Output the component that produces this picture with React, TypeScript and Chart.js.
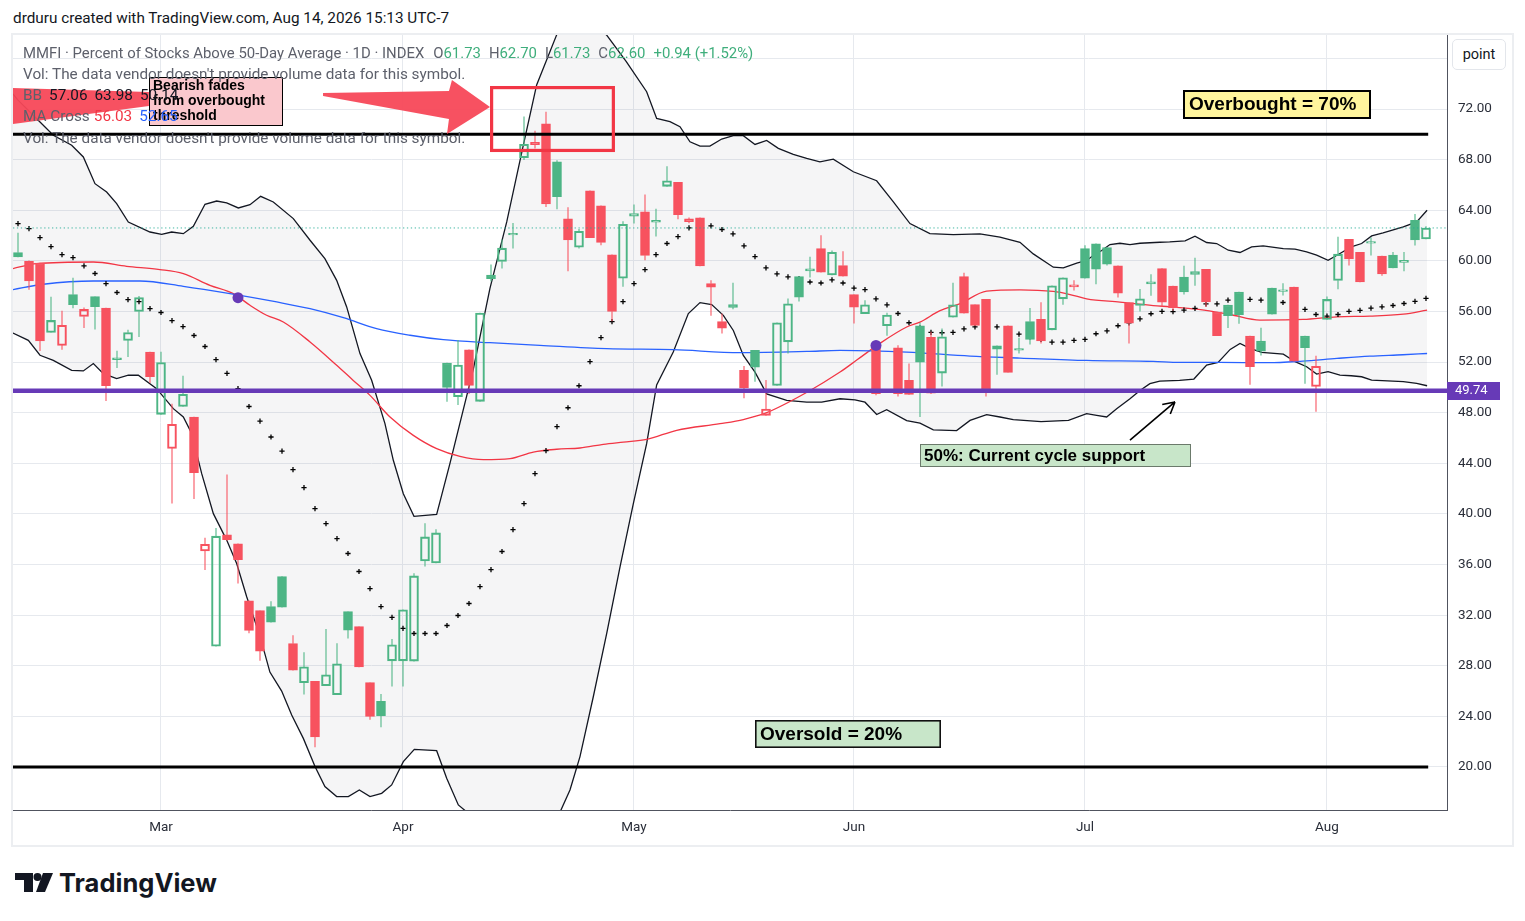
import React, { useEffect, useRef } from 'react';
import { Chart, registerables } from 'chart.js';
Chart.register(...registerables);

// ---------- categories (trading days, 2026) ----------
const dates = [
  '02-10','02-11','02-12','02-13','02-17','02-18','02-19','02-20','02-23','02-24','02-25','02-26','02-27',
  '03-02','03-03','03-04','03-05','03-06','03-09','03-10','03-11','03-12','03-13','03-16','03-17','03-18','03-19','03-20','03-23','03-24','03-25','03-26','03-27','03-30','03-31',
  '04-01','04-02','04-06','04-07','04-08','04-09','04-10','04-13','04-14','04-15','04-16','04-17','04-20','04-21','04-22','04-23','04-24','04-27','04-28','04-29','04-30',
  '05-01','05-04','05-05','05-06','05-07','05-08','05-11','05-12','05-13','05-14','05-15','05-18','05-19','05-20','05-21','05-22','05-26','05-27','05-28','05-29',
  '06-01','06-02','06-03','06-04','06-05','06-08','06-09','06-10','06-11','06-12','06-15','06-16','06-17','06-18','06-22','06-23','06-24','06-25','06-26','06-29','06-30',
  '07-01','07-02','07-06','07-07','07-08','07-09','07-10','07-13','07-14','07-15','07-16','07-17','07-20','07-21','07-22','07-23','07-24','07-27','07-28','07-29','07-30','07-31',
  '08-03','08-04','08-05','08-06','08-07','08-10','08-11','08-12','08-13','08-14',
];
const monthKeys = ['03', '04', '05', '06', '07', '08'];
const monthLabels = ['Mar', 'Apr', 'May', 'Jun', 'Jul', 'Aug'];
const yTickValues = [20, 24, 28, 32, 36, 40, 44, 48, 52, 56, 60, 64, 68, 72, 76];

// ---------- OHLC ----------
const open = [
  60.66,59.97,59.82,54.34,53.32,57.34,55.6,57.18,56.26,52.2,
  53.71,56.0,52.79,47.87,45.18,48.5,47.66,37.08,29.55,38.34,
  37.63,33.13,32.37,32.68,35.05,29.76,26.66,26.76,26.42,25.71,
  32.29,31.1,26.68,25.18,28.39,28.39,28.37,36.29,36.13,51.92,
  49.26,52.97,48.9,58.87,59.95,62.05,68.16,69.37,70.82,67.82,
  63.32,61.08,65.53,64.34,60.47,58.63,63.53,63.87,63.05,65.89,
  66.21,63.32,63.4,58.21,55.21,56.55,51.34,52.92,47.79,50.16,
  53.6,58.76,59.21,60.97,58.89,59.63,57.34,55.82,53.18,54.87,
  53.13,50.55,54.87,53.95,51.13,55.55,58.76,56.55,56.95,53.29,
  54.87,52.95,55.21,55.37,54.55,57.0,57.95,60.97,61.34,61.05,
  59.61,56.71,56.47,58.18,59.39,58.0,58.71,58.92,59.34,55.95,
  56.5,57.53,54.05,53.66,57.84,57.58,57.92,54.05,50.08,55.37,
  58.45,61.71,60.68,61.4,60.37,60.45,59.87,63.21,61.73,
];
const high = [
  62.2,60.0,59.82,57.13,56.03,58.63,56.29,57.18,56.26,52.87,
  54.53,57.2,52.79,52.79,48.68,50.9,47.66,38.1,38.87,43.08,
  37.63,33.13,32.37,33.08,35.05,30.39,29.05,26.76,30.87,29.76,
  32.29,31.1,26.68,25.74,30.08,32.42,35.29,39.24,38.76,51.92,
  53.71,52.97,55.87,59.68,61.66,62.97,71.39,70.26,71.76,67.92,
  64.21,62.5,65.53,64.34,60.47,63.1,64.42,65.21,64.1,67.45,
  66.21,63.4,63.4,58.45,55.82,58.24,51.66,52.92,50.55,55.1,
  57.0,58.76,60.29,62.0,60.8,60.74,57.34,56.87,53.18,55.87,
  53.3,51.87,55.08,54.37,54.63,58.24,59.03,56.55,56.95,53.29,
  54.87,53.89,56.24,56.71,58.03,58.66,58.45,61.21,61.34,61.05,
  59.61,56.71,57.74,58.92,59.39,58.0,59.58,60.21,59.34,55.95,
  56.5,57.53,54.05,54.68,57.84,58.21,57.92,54.05,52.47,57.16,
  61.87,61.71,60.68,61.82,60.37,60.68,60.68,63.68,62.70,
];
const low = [
  60.32,57.74,52.9,54.34,53.0,56.29,54.71,54.6,48.95,51.55,
  52.42,54.0,50.37,47.87,40.84,48.5,41.21,35.6,29.55,37.9,
  34.53,30.6,28.42,31.45,32.63,27.66,25.76,21.58,26.42,25.71,
  30.18,27.9,23.76,23.16,26.39,26.39,28.37,35.87,36.13,48.9,
  48.63,49.5,48.9,58.4,59.42,61.0,68.0,68.9,64.29,64.1,
  59.21,61.0,61.84,61.26,55.26,57.97,62.97,60.08,61.95,65.89,
  63.32,63.0,59.6,55.68,54.29,56.21,49.16,50.47,47.79,50.16,
  52.71,56.82,58.71,59.1,58.89,58.79,55.08,55.82,49.4,54.1,
  49.3,49.45,47.68,49.5,50.1,55.55,55.87,54.89,49.3,51.03,
  51.18,52.71,53.42,53.5,54.55,56.55,57.68,58.63,58.18,59.66,
  57.13,53.5,56.03,57.26,56.39,56.1,57.37,58.05,56.37,54.08,
  54.71,55.05,50.24,52.55,55.79,57.29,52.08,50.32,48.1,55.37,
  57.79,59.66,58.34,60.45,58.84,59.45,59.21,61.24,61.73,
];
const close = [
  60.32,58.42,53.68,55.29,54.9,56.53,56.16,56.37,50.13,52.29,
  54.34,57.1,50.84,51.97,47.08,49.45,43.26,37.6,38.24,37.97,
  36.39,30.79,29.16,31.45,32.63,27.66,27.92,22.37,27.29,28.16,
  30.82,27.9,24.0,24.05,29.66,32.42,35.1,38.18,38.5,50.0,
  51.76,50.16,55.87,58.6,61.0,62.15,69.21,69.18,64.5,65.08,
  61.66,62.34,61.84,61.45,56.0,62.89,63.74,60.42,63.21,66.32,
  63.66,63.1,59.6,57.92,54.68,56.32,49.95,51.6,48.29,55.1,
  56.61,57.13,59.37,59.1,60.68,58.79,56.34,56.53,49.5,55.71,
  49.5,49.45,52.0,49.55,54.0,56.53,55.87,54.89,49.8,53.03,
  51.18,53.05,53.79,53.68,58.03,58.66,58.1,58.63,59.34,59.74,
  57.45,55.08,57.0,58.34,56.74,56.3,57.55,59.16,56.76,54.08,
  55.66,55.75,51.63,52.87,55.79,57.68,52.08,53.13,51.66,56.95,
  60.53,60.16,58.34,61.45,58.97,59.45,60.05,61.66,62.60,
];

// ---------- Bollinger basis (20-day, one per day) ----------
const bbBasis = [
  62.95,62.55,61.84,61.13,60.5,60.26,59.6,59.0,58.2,57.5,
  56.94,56.78,56.23,55.92,55.28,54.81,54.1,53.23,52.2,51.1,
  49.9,48.49,47.33,46.08,44.97,43.5,42.08,40.42,39.24,38.05,
  36.87,35.45,34.1,32.68,31.82,30.95,30.55,30.55,30.55,31.18,
  31.97,32.92,34.26,35.6,37.03,38.76,40.82,43.18,45.0,46.9,
  48.39,50.13,52.03,53.93,55.19,56.78,58.2,59.31,60.5,61.37,
  61.92,62.61,62.75,62.77,62.48,62.13,61.18,60.34,59.45,58.97,
  58.73,58.6,58.33,58.25,58.5,58.25,57.85,57.72,57.0,56.52,
  55.84,55.11,54.7,54.34,54.32,54.35,54.63,54.79,54.8,54.79,
  54.5,54.21,54.0,53.8,53.58,53.58,53.71,53.79,54.24,54.47,
  54.87,55.1,55.42,55.82,56.0,55.98,56.1,56.24,56.6,56.6,
  56.89,56.9,56.95,56.89,56.8,56.71,56.45,56.16,55.76,55.63,
  55.76,56.0,56.08,56.26,56.37,56.47,56.63,56.79,57.03,
];

// ---------- Bollinger upper / lower (read as [day index, value]) ----------
const bbUpper = [
  [-0.46,73.2],[0,72.7],[2.0,70.98],[3.21,69.93],[4.88,69.14],[5.94,68.21],[7.0,66.1],[8.06,65.44],[8.97,64.52],
  [10.03,63.07],[12.0,62.28],[13.06,62.1],[13.97,62.28],[15.03,62.15],[15.94,62.73],[17.0,64.47],[18.06,64.73],
  [18.97,64.58],[20.03,64.18],[21.09,64.44],[22.06,65.1],[23.21,64.65],[25.03,63.34],[26.55,61.63],[27.9,60.18],
  [28.97,58.46],[29.88,56.36],[31.09,52.67],[32.15,50.56],[33.36,47.14],[34.12,44.24],[35.03,41.6],[36.0,39.81],
  [38.06,39.97],[39.27,44.0],[41.4,51.47],[42.9,57.8],[44.43,63.08],[45.94,69.15],[47.15,73.9],[48.97,77.86],
  [51.0,79.4],[52.3,78.5],[53.5,77.86],[55.3,75.75],[57.15,73.37],[58.06,71.26],[59.27,71.0],[60.18,70.6],
  [61.09,69.41],[62.0,69.07],[62.9,69.07],[63.97,69.63],[65.03,69.89],[65.94,69.89],[67.0,69.2],[68.06,69.52],
  [69.12,68.89],[70.48,68.41],[71.7,68.1],[72.9,67.83],[74.12,68.04],[75.94,67.04],[78.06,66.33],[79.58,64.66],
  [81.09,62.95],[82.9,62.16],[85.03,62.08],[87.45,62.13],[89.27,61.87],[91.09,61.47],[92.3,60.55],[94.12,59.5],
  [95.03,59.45],[96.25,59.82],[97.15,60.03],[97.75,60.42],[98.52,60.82],[99.27,61.29],[100.18,61.39],[101.09,61.29],
  [102.0,61.39],[103.8,61.47],[104.7,61.5],[106.1,61.58],[107.0,61.95],[108.06,61.45],[108.97,61.37],[110.03,60.84],
  [111.09,60.66],[112.15,61.1],[113.2,61.18],[115.03,60.97],[116.1,60.92],[117.15,60.71],[118.06,60.45],[119.1,60.05],
  [120.18,60.58],[121.2,61.1],[122.15,61.37],[123.06,61.97],[124.1,62.21],[125.94,62.68],[127.15,63.08],[128.1,64.0],
];
const bbLower = [
  [-0.46,54.3],[0.94,53.72],[2.0,52.54],[3.21,52.14],[4.88,51.35],[5.94,51.3],[6.85,51.88],[7.76,51.09],[8.97,50.7],
  [10.03,50.96],[10.94,50.96],[12.6,49.9],[14.12,48.32],[15.03,47.66],[15.79,46.35],[16.7,43.18],[17.76,40.02],
  [18.97,37.93],[19.88,36.08],[20.79,33.45],[22.0,30.34],[22.9,27.5],[23.97,26.0],[24.88,24.1],[25.94,22.26],
  [27.0,20.03],[27.9,18.45],[28.97,17.66],[30.03,17.66],[31.03,18.18],[32.0,17.66],[33.06,17.92],[33.97,18.58],
  [35.03,20.42],[36.03,21.39],[38.06,21.29],[38.97,19.11],[40.03,17.0],[41.0,16.3],[43.0,13.4],[45.0,12.1],
  [47.0,12.5],[49.0,15.9],[50.18,18.18],[51.09,20.82],[52.3,25.55],[53.52,30.55],[54.73,35.82],[55.94,40.82],
  [57.15,45.55],[58.06,50.2],[59.57,52.79],[60.94,55.83],[62.0,56.7],[63.06,56.54],[64.12,55.69],[65.03,54.5],
  [65.94,52.53],[67.0,51.2],[68.06,49.49],[69.88,48.97],[71.7,48.83],[73.06,48.83],[74.73,49.1],[76.09,49.02],
  [77.0,48.83],[78.06,47.86],[78.97,48.23],[80.79,47.38],[82.0,47.17],[83.21,46.64],[85.33,46.59],[86.55,47.39],
  [88.06,47.84],[89.27,47.66],[90.48,47.45],[93.0,47.3],[95.5,47.4],[97.15,47.92],[98.06,47.79],[98.97,47.66],
  [99.88,48.32],[101.09,49.1],[102.0,49.76],[102.9,50.29],[103.8,50.5],[105.6,50.55],[106.9,50.66],[108.06,51.76],
  [109.1,51.97],[110.2,53.0],[111.09,53.47],[112.0,53.08],[113.06,52.76],[115.03,52.63],[116.1,52.03],[117.15,51.63],
  [118.06,51.05],[119.1,51.24],[120.18,50.97],[121.2,50.92],[122.15,50.84],[123.06,50.58],[125.94,50.45],[127.15,50.32],
  [128.1,50.13],
];

// ---------- Moving averages (read as [day index, value]) ----------
const ma50 = [
  [-0.46,59.39],[1.7,59.78],[6.85,59.91],[9.88,59.57],[12.9,59.31],[15.03,58.99],[17.45,58.07],[19.57,57.41],
  [21.09,56.49],[22.6,55.7],[24.12,55.17],[26.55,53.59],[28.97,51.75],[30.48,50.55],[32.0,49.37],[33.82,47.66],
  [35.94,46.21],[38.06,45.16],[40.18,44.55],[42.3,44.29],[44.73,44.37],[46.85,44.89],[48.97,45.11],[51.09,45.21],
  [53.21,45.5],[55.03,45.68],[57.15,45.89],[59.88,46.61],[63.82,47.13],[65.94,47.46],[68.06,48.0],[71.7,49.6],
  [74.73,51.21],[76.25,52.16],[78.36,53.48],[80.79,54.77],[82.0,55.16],[83.82,56.06],[85.6,56.6],[88.06,57.61],
  [91.09,57.71],[94.12,57.58],[95.64,57.34],[97.15,57.0],[100.18,56.74],[103.2,56.47],[104.7,56.37],[107.15,56.18],
  [110.2,55.76],[112.9,55.32],[116.85,55.37],[119.9,55.58],[122.9,55.63],[125.94,55.79],[128.1,56.11],
];
const ma200 = [
  [-0.46,57.73],[2.3,58.15],[6.85,58.41],[11.09,58.41],[15.03,57.99],[19.27,57.41],[23.52,56.75],[26.55,56.22],
  [29.58,55.51],[32.6,54.64],[35.64,54.12],[38.67,53.77],[42.9,53.53],[47.45,53.32],[53.5,53.06],[59.57,52.98],
  [65.64,52.75],[71.7,52.84],[74.73,52.92],[80.79,52.79],[86.55,52.47],[91.09,52.32],[97.15,52.13],[103.2,52.05],
  [105.6,51.97],[109.2,51.97],[113.7,51.95],[116.8,52.08],[119.9,52.29],[122.9,52.47],[125.9,52.58],[128.1,52.68],
];
const crossX = [20, 78];
const crossY = [57.09, 53.32];

// ---------- horizontal levels ----------
const overbought = 70;
const oversold = 20;
const supportLevel = 49.74;
const lastPrice = 62.6;

// ---------- styling ----------
const FONT = 'Roboto, "Liberation Sans", Arial, sans-serif';
const BOXFONT = '"Liberation Sans", Arial, sans-serif';
const GREEN = '#4DB585';
const RED = '#F7525F';
const GREEN_W = 'rgba(77,181,133,0.55)';
const RED_W = 'rgba(247,82,95,0.55)';
const PURPLE = '#673AB7';
const GRID = '#E6E9EE';
const SEP = '#50535E';
const XMIN = -0.4545;
const XMAX = 129.91;
const YMIN = 16.6;
const YMAX = 77.85;

const annotationPlugin = {
  id: 'tvAnnotations',
  afterDatasetsDraw(chart: any) {
    const { ctx, scales } = chart;
    const px = (v: number) => scales.x.getPixelForValue(v);
    const py = (v: number) => scales.y.getPixelForValue(v);
    ctx.save();
    const poly = (pts: number[][], color: string) => {
      ctx.beginPath();
      pts.forEach(([a, b], i) => (i ? ctx.lineTo(px(a), py(b)) : ctx.moveTo(px(a), py(b))));
      ctx.closePath();
      ctx.fillStyle = color;
      ctx.fill();
    };
    // red arrows
    poly([[-0.455, 73.66], [11.9, 73.34], [11.9, 72.24], [-0.455, 70.82]], 'rgba(247,72,88,0.95)');
    poly([[27.73, 73.26], [39.18, 73.42], [39.45, 74.29], [42.91, 72.16], [39.0, 70.02], [39.18, 71.21], [27.73, 73.03]], 'rgba(247,72,88,0.95)');
    // red highlight rectangle
    ctx.strokeStyle = '#F23645';
    ctx.lineWidth = 3.2;
    ctx.strokeRect(px(42.91) + 1.6, py(73.82) + 1.6, px(54.27) - px(42.91) - 3.2, py(68.6) - py(73.82) - 3.2);

    const box = (x0: number, y0: number, x1: number, y1: number, fill: string, stroke: string, lw: number,
      lines: string[], font: string, padX: number, firstDy: number, lineH: number) => {
      const L = Math.round(px(x0)), T = Math.round(py(y0)), R = Math.round(px(x1)), B = Math.round(py(y1));
      ctx.fillStyle = fill;
      ctx.fillRect(L, T, R - L, B - T);
      ctx.strokeStyle = stroke;
      ctx.lineWidth = lw;
      ctx.strokeRect(L + lw / 2, T + lw / 2, R - L - lw, B - T - lw);
      ctx.fillStyle = '#000';
      ctx.font = font;
      ctx.textBaseline = 'middle';
      ctx.textAlign = 'left';
      lines.forEach((t, i) => ctx.fillText(t, L + padX, T + firstDy + i * lineH));
    };
    box(11.91, 74.53, 24.09, 70.66, '#FAC8CD', '#000', 1, ['Bearish fades', 'from overbought', 'threshold'], `bold 14px ${BOXFONT}`, 4, 9.5, 15);
    box(105.91, 73.5, 123.0, 71.21, '#FFF59D', '#000', 2, ['Overbought = 70%'], `bold 19px ${BOXFONT}`, 6, 15, 0);
    box(67.0, 23.71, 83.9, 21.5, '#C8E6C9', '#111', 1.6, ['Oversold = 20%'], `bold 19px ${BOXFONT}`, 5, 14.5, 0);
    box(82.0, 45.53, 106.64, 43.71, '#C8E6C9', '#6b7a6b', 1, ['50%: Current cycle support'], `bold 17px ${BOXFONT}`, 4, 12, 0);

    // black pointer arrow
    const ax0 = px(101.09), ay0 = py(45.84), ax1 = px(105.18), ay1 = py(48.85);
    ctx.strokeStyle = '#000';
    ctx.lineWidth = 1.6;
    ctx.beginPath();
    ctx.moveTo(ax0, ay0);
    ctx.lineTo(ax1, ay1);
    const ang = Math.atan2(ay1 - ay0, ax1 - ax0);
    const hl = 13;
    ctx.moveTo(ax1, ay1);
    ctx.lineTo(ax1 - hl * Math.cos(ang - 0.5), ay1 - hl * Math.sin(ang - 0.5));
    ctx.moveTo(ax1, ay1);
    ctx.lineTo(ax1 - hl * Math.cos(ang + 0.5), ay1 - hl * Math.sin(ang + 0.5));
    ctx.stroke();
    ctx.restore();
  },
  afterDraw(chart: any) {
    const { ctx, scales } = chart;
    const y = scales.y;
    const yy = y.getPixelForValue(supportLevel);
    ctx.save();
    ctx.fillStyle = PURPLE;
    ctx.fillRect(y.left, Math.round(yy) - 9, 53, 18);
    ctx.fillStyle = '#fff';
    ctx.font = `13px ${FONT}`;
    ctx.textBaseline = 'middle';
    ctx.textAlign = 'left';
    ctx.fillText(supportLevel.toFixed(2), y.left + 8, yy + 0.5);
    ctx.restore();
  },
};

export default function App() {
  const ref = useRef<HTMLCanvasElement>(null);

  useEffect(() => {
    const n = dates.length;
    const idx = dates.map((_, i) => i);
    const isUp = close.map((c, i) => (i === 0 ? true : c >= close[i - 1]));
    const hollow = close.map((c, i) => c > open[i]);
    const color = isUp.map((u) => (u ? GREEN : RED));
    const wickColor = isUp.map((u) => (u ? GREEN_W : RED_W));
    const bodyTop = idx.map((i) => Math.max(open[i], close[i]));
    const bodyBot = idx.map((i) => Math.min(open[i], close[i]));
    const monthIdx = monthKeys.map((m) => dates.findIndex((d) => d.startsWith(m)));
    const pts = (arr: number[][]) => arr.map(([x, y]) => ({ x, y }));
    const flat = (v: number, x1: number) => [{ x: XMIN, y: v }, { x: x1, y: v }];

    const chart = new Chart(ref.current as HTMLCanvasElement, {
      type: 'bar',
      data: {
        datasets: [
          { type: 'line', data: pts(bbUpper), borderColor: '#131722', borderWidth: 1.3, pointRadius: 0, tension: 0, fill: false, clip: 0, order: 10 } as any,
          { type: 'line', data: pts(bbLower), borderColor: '#131722', borderWidth: 1.3, pointRadius: 0, tension: 0, fill: '-1', backgroundColor: 'rgba(115,122,132,0.075)', clip: 0, order: 10 } as any,
          { type: 'line', data: pts(ma200), borderColor: '#2962FF', borderWidth: 1.3, pointRadius: 0, cubicInterpolationMode: 'monotone', clip: 0, order: 9 } as any,
          { type: 'line', data: pts(ma50), borderColor: '#F23645', borderWidth: 1.3, pointRadius: 0, cubicInterpolationMode: 'monotone', clip: 0, order: 9 } as any,
          { type: 'line', data: idx.map((i) => ({ x: i, y: bbBasis[i] })), showLine: false, pointStyle: 'cross', pointRadius: 2.6, pointBorderWidth: 1.3, pointBorderColor: '#000', borderColor: '#000', order: 8 } as any,
          { type: 'bar', data: idx.map((i) => ({ x: i, y: [bodyTop[i], Math.max(high[i], bodyTop[i])] })), backgroundColor: wickColor, borderWidth: 0, barThickness: 1.3, grouped: false, order: 5 } as any,
          { type: 'bar', data: idx.map((i) => ({ x: i, y: [Math.min(low[i], bodyBot[i]), bodyBot[i]] })), backgroundColor: wickColor, borderWidth: 0, barThickness: 1.3, grouped: false, order: 5 } as any,
          { type: 'bar', data: idx.map((i) => ({ x: i, y: [bodyBot[i], bodyTop[i]] })), backgroundColor: idx.map((i) => (hollow[i] ? 'rgba(0,0,0,0)' : color[i])), borderColor: color, borderWidth: 1.4, borderSkipped: false, barThickness: 9, minBarLength: 1.6, grouped: false, order: 4 } as any,
          { type: 'line', data: flat(lastPrice, XMAX), borderColor: 'rgba(34,171,148,0.85)', borderWidth: 1, borderDash: [1.3, 2.6], pointRadius: 0, clip: 0, order: 3 } as any,
          { type: 'line', data: flat(overbought, n - 1 + 0.2), borderColor: '#000', borderWidth: 3, pointRadius: 0, clip: 0, order: 2 } as any,
          { type: 'line', data: flat(oversold, n - 1 + 0.2), borderColor: '#000', borderWidth: 3, pointRadius: 0, clip: 0, order: 2 } as any,
          { type: 'line', data: flat(supportLevel, XMAX), borderColor: PURPLE, borderWidth: 4.5, pointRadius: 0, clip: 0, order: 2 } as any,
          { type: 'line', data: crossX.map((x, i) => ({ x, y: crossY[i] })), showLine: false, pointStyle: 'circle', pointRadius: 5.5, pointBackgroundColor: PURPLE, pointBorderWidth: 0, order: 1 } as any,
        ],
      },
      options: {
        responsive: false,
        maintainAspectRatio: false,
        animation: false,
        events: [],
        layout: { padding: 0, autoPadding: false },
        plugins: { legend: { display: false }, tooltip: { enabled: false } },
        scales: {
          x: {
            type: 'linear',
            position: 'bottom',
            offset: false,
            min: XMIN,
            max: XMAX,
            bounds: 'data',
            afterBuildTicks: (s: any) => { s.ticks = monthIdx.map((v) => ({ value: v })); },
            afterFit: (s: any) => { s.height = 36; s.paddingLeft = 0; s.paddingRight = 0; },
            ticks: { callback: (_v: any, i: number) => monthLabels[i], padding: 10, color: '#2a2e39', font: { family: FONT, size: 13.5 }, maxRotation: 0, autoSkip: false },
            grid: { color: GRID, drawTicks: false, lineWidth: 1, offset: false },
            border: { display: true, color: SEP, width: 1 },
          },
          y: {
            type: 'linear',
            position: 'right',
            offset: false,
            min: YMIN,
            max: YMAX,
            bounds: 'data',
            afterBuildTicks: (s: any) => { s.ticks = yTickValues.map((v) => ({ value: v })); },
            afterFit: (s: any) => { s.width = 66; s.paddingTop = 0; s.paddingBottom = 0; },
            ticks: { callback: (v: any) => (v > 74 ? '' : Number(v).toFixed(2)), padding: 11, color: '#2a2e39', font: { family: FONT, size: 13.5 } },
            grid: { color: GRID, drawTicks: false, lineWidth: 1 },
            border: { display: true, color: SEP, width: 1 },
          },
        },
      } as any,
      plugins: [annotationPlugin],
    });
    return () => chart.destroy();
  }, []);

  const gray = '#5D606B';
  const green = '#3FAE7C';
  const legendLine = (top: number, children: React.ReactNode, size = 15.3) => (
    <div style={{ position: 'absolute', left: 23, top, height: 18, lineHeight: '18px', fontSize: size, whiteSpace: 'nowrap', color: gray }}>{children}</div>
  );

  return (
    <div style={{ position: 'absolute', left: 0, top: 0, width: 1525, height: 921, background: '#fff', overflow: 'hidden', fontFamily: FONT }}>
      <div style={{ position: 'absolute', left: 13, top: 9, fontSize: 15.3, lineHeight: '18px', color: '#131722', whiteSpace: 'nowrap' }}>
        drduru created with TradingView.com, Aug 14, 2026 15:13 UTC-7
      </div>
      <div style={{ position: 'absolute', left: 11, top: 33, width: 1503, height: 814, boxSizing: 'border-box', border: '2px solid #ECEEF1' }} />
      <canvas ref={ref} width={1500} height={811} style={{ position: 'absolute', left: 13, top: 35, width: 1500, height: 811 }} />
      {legendLine(44, <>
        <span>MMFI · Percent of Stocks Above 50-Day Average · 1D · INDEX</span>
        <span style={{ marginLeft: 9 }}>O</span><span style={{ color: green }}>61.73</span>
        <span style={{ marginLeft: 8 }}>H</span><span style={{ color: green }}>62.70</span>
        <span style={{ marginLeft: 8 }}>L</span><span style={{ color: green }}>61.73</span>
        <span style={{ marginLeft: 8 }}>C</span><span style={{ color: green }}>62.60</span>
        <span style={{ marginLeft: 8, color: green }}>+0.94 (+1.52%)</span>
      </>, 14.9)}
      {legendLine(65, <span>Vol: The data vendor doesn't provide volume data for this symbol.</span>)}
      {legendLine(86, <>
        <span>BB</span>
        <span style={{ marginLeft: 7, color: '#131722' }}>57.06</span>
        <span style={{ marginLeft: 7, color: '#131722' }}>63.98</span>
        <span style={{ marginLeft: 7, color: '#131722' }}>50.14</span>
      </>)}
      {legendLine(107, <>
        <span>MA Cross</span>
        <span style={{ marginLeft: 4, color: '#F23645' }}>56.03</span>
        <span style={{ marginLeft: 7, color: '#2962FF' }}>52.65</span>
      </>)}
      {legendLine(129, <span>Vol: The data vendor doesn't provide volume data for this symbol.</span>)}
      <div style={{ position: 'absolute', left: 1452, top: 39, width: 54, height: 31, boxSizing: 'border-box', border: '1px solid #E3E6EB', borderRadius: 5, background: '#fff', fontSize: 14.5, lineHeight: '29px', textAlign: 'center', color: '#131722' }}>point</div>
      <svg style={{ position: 'absolute', left: 0, top: 860 }} width={240} height={45}>
        <path d="M15 13 H33 V32 H24 V20 H15 Z" fill="#131722" />
        <circle cx={37.5} cy={17} r={4} fill="#131722" />
        <path d="M43 13 H53 L45 32 H36 Z" fill="#131722" />
        <text x={59} y={32} fontFamily='Inter, "Open Sans", sans-serif' fontWeight={700} fontSize={25.5} fill="#131722">TradingView</text>
      </svg>
    </div>
  );
}
